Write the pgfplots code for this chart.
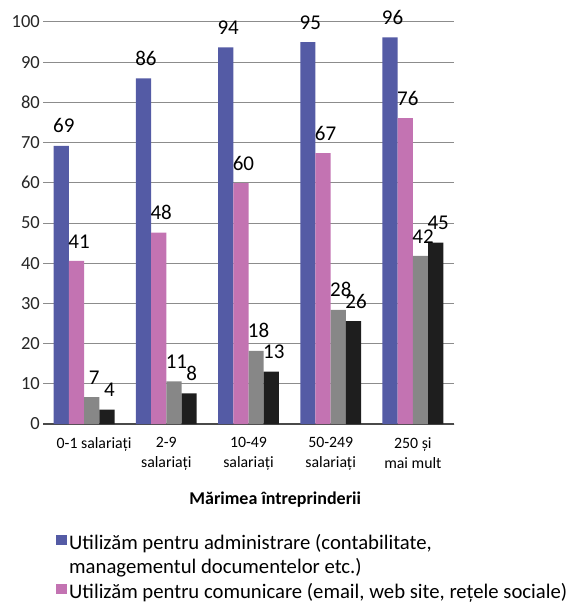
\documentclass[border=0pt]{standalone}
\usepackage{fontspec}
\setmainfont{Carlito}
\usepackage{pgfplots}
\pgfplotsset{compat=1.18}

\definecolor{cAdmin}{HTML}{545BA5}
\definecolor{cComm}{HTML}{C373B2}
\definecolor{cGray}{HTML}{878787}
\definecolor{cBlack}{HTML}{1E1E1E}
\definecolor{gridgray}{HTML}{8C8C8C}
\definecolor{axisgray}{HTML}{4A4A4A}

\pgfplotsset{sqlegend/.style={legend image code/.code={\fill[##1] (0bp,-1bp) rectangle (10.5bp,9.5bp);}}}

\begin{document}
\begin{tikzpicture}
\begin{axis}[
    at={(0,0)}, anchor=south west,
    width=411bp, height=402bp, scale only axis,
    ybar=0pt, bar width=0.185,
    xmin=-0.5, xmax=4.5,
    ymin=0, ymax=100,
    xtick={0,1,2,3,4},
    xticklabels={\hspace*{20bp}0-1 salariați, 2-9\\salariați, 10-49\\salariați, 50-249\\salariați, 250 și\\mai mult},
    ytick={0,10,...,100},
    axis x line*=bottom, axis y line*=left,
    y axis line style={draw=none},
    x axis line style={draw=axisgray, line width=1.2bp},
    tick style={draw=none},
    ymajorgrids, grid style={draw=gridgray, line width=1bp},
    /pgf/number format/assume math mode=true,
    yticklabel style={font=\fontsize{18.5bp}{22bp}\selectfont, inner sep=0pt, xshift=-3bp, text=black!85},
    xticklabel style={font=\fontsize{15.8bp}{20bp}\selectfont, align=center, anchor=north, inner sep=0pt, yshift=-9bp, text=black},
    xlabel={\bfseries Mărimea întreprinderii},
    xlabel style={font=\fontsize{18bp}{22bp}\selectfont, at={(rel axis cs:0.565,0)}, anchor=base, yshift=-80bp},
    nodes near coords={\pgfmathprintnumber[fixed,precision=0]{\pgfplotspointmeta}},
    nodes near coords style={font=\fontsize{21bp}{24bp}\selectfont, inner sep=0pt, anchor=south, xshift=2.5bp, yshift=12.5bp, text=black},
    legend style={at={(rel axis cs:0,0)}, anchor=north west, xshift=13bp, yshift=-108bp,
        draw=none, fill=none, inner sep=0pt, row sep=0pt,
        font=\fontsize{20.7bp}{24.5bp}\selectfont,
        cells={anchor=base west},
        nodes={inner sep=0pt, text=black, text height=17.15bp, text depth=7.35bp},
        /tikz/every odd column/.append style={column sep=2.5bp}},
    legend cell align=left,
]
\addplot[fill=cAdmin, draw=none, sqlegend]
    coordinates {(0,69.2) (1,86) (2,93.7) (3,95) (4,96.2)};
\addlegendentry{Utilizăm pentru administrare (contabilitate,}
\addlegendimage{empty legend}
\addlegendentry{managementul documentelor etc.)}
\addplot[fill=cComm, draw=none, sqlegend]
    coordinates {(0,40.6) (1,47.6) (2,59.9) (3,67.4) (4,76.1)};
\addlegendentry{Utilizăm pentru comunicare (email, web site, rețele sociale)}
\addplot[fill=cGray, draw=none]
    coordinates {(0,6.7) (1,10.6) (2,18.2) (3,28.4) (4,41.8)};
\addplot[fill=cBlack, draw=none]
    coordinates {(0,3.6) (1,7.6) (2,13) (3,25.6) (4,45.1)};
\draw[axisgray, line width=1bp] (rel axis cs:0,0) -- ++(0,-51bp);
\draw[axisgray, line width=1bp] (rel axis cs:1,0) -- ++(0,-51bp);
\end{axis}
\pgfresetboundingbox
\path[use as bounding box] (-43bp,-178bp) rectangle (525bp,424bp);
\end{tikzpicture}
\end{document}
